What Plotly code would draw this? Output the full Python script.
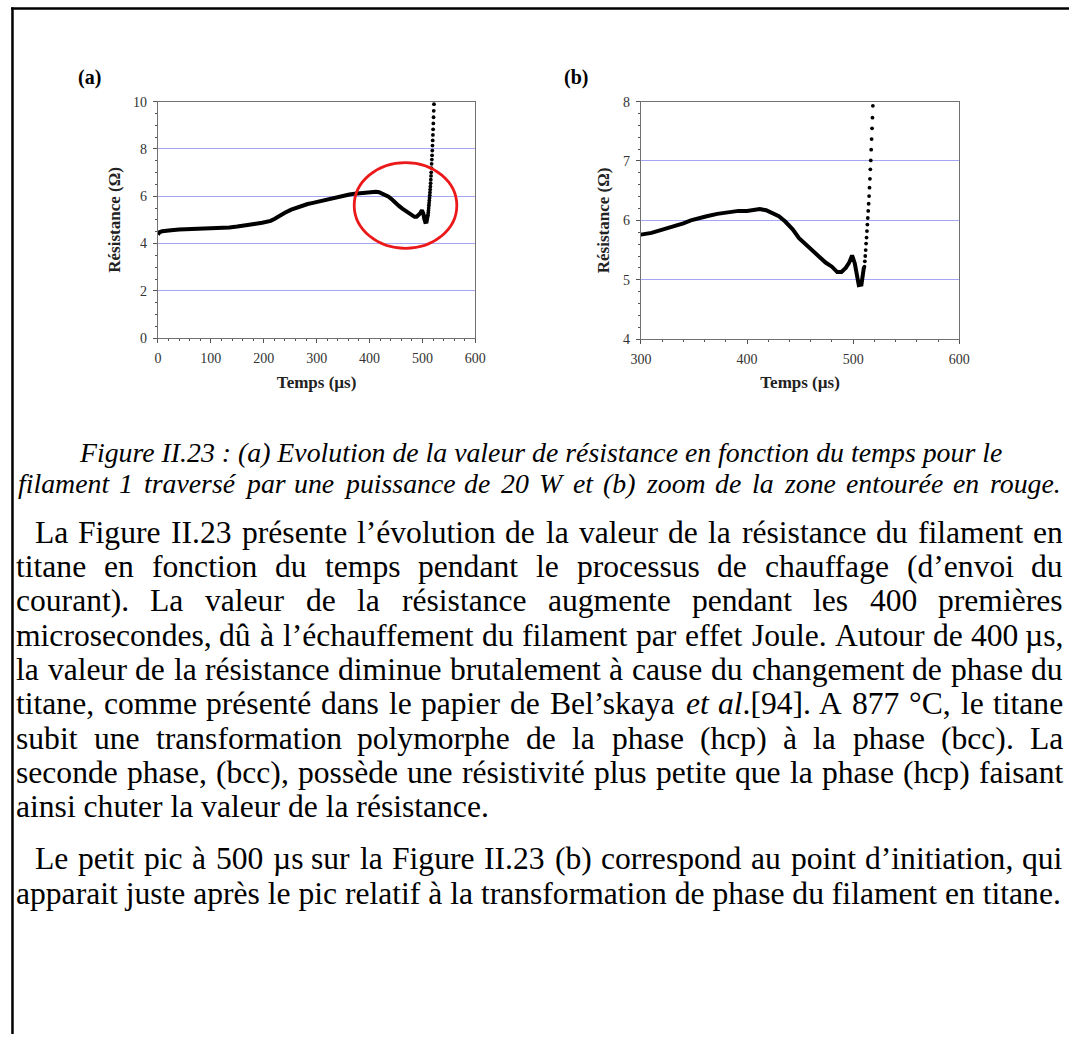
import plotly.graph_objects as go

# ---------------- data ----------------
time_line = [0, 3, 8, 15, 25, 40, 55, 72, 90, 103, 120, 135, 150, 166, 182, 197, 206, 213, 220, 228,
             240, 252, 260, 272, 283, 291, 300, 310, 322, 332, 340, 347, 354, 362, 372, 380, 392, 400,
             406, 412, 418, 424, 430, 436, 443, 449, 455, 462, 468, 474, 480, 485, 489, 493, 496, 499,
             501.5, 503.5, 505.3, 507.8, 509.4, 510.2]
res_line = [4.38, 4.48, 4.52, 4.55, 4.56, 4.59, 4.60, 4.61, 4.61, 4.62, 4.65, 4.68, 4.72, 4.79, 4.83, 4.88,
            4.91, 4.96, 5.04, 5.15, 5.30, 5.43, 5.50, 5.60, 5.67, 5.71, 5.76, 5.79, 5.85, 5.91, 5.95, 6.00,
            6.04, 6.07, 6.11, 6.13, 6.16, 6.16, 6.18, 6.19, 6.17, 6.12, 6.07, 5.98, 5.85, 5.70, 5.60, 5.48,
            5.38, 5.29, 5.22, 5.13, 5.13, 5.20, 5.28, 5.41, 5.28, 5.05, 4.91, 4.92, 5.10, 5.22]
time_dots = [510.6, 511.0, 511.4, 511.8, 512.2, 512.6, 513.0, 513.4, 513.8, 514.2, 514.6, 515.0, 515.4,
             515.8, 516.2, 516.6, 517.0, 517.4, 517.8, 518.2, 518.6, 519.0, 519.4, 519.8, 520.2, 520.6,
             521.0, 521.4, 521.8]
res_dots = [5.22, 5.31, 5.40, 5.50, 5.61, 5.71, 5.82, 5.93, 6.04, 6.16, 6.28, 6.41, 6.55, 6.70, 6.86, 7.01,
            7.19, 7.37, 7.55, 7.73, 7.93, 8.14, 8.36, 8.59, 8.83, 9.08, 9.34, 9.61, 9.89]

# red ellipse (zone zoomed in panel b), data coords of panel a
ellipse_t = [371, 565]
ellipse_r = [3.8, 7.42]

xticks_a = [0, 100, 200, 300, 400, 500, 600]
yticks_a = [0, 2, 4, 6, 8, 10]
xticks_b = [300, 400, 500, 600]
yticks_b = [4, 5, 6, 7, 8]

caption_lines = [
    "Figure II.23 : (a) Evolution de la valeur de résistance en fonction du temps pour le",
    "filament 1 traversé par une puissance de 20 W et (b) zoom de la zone entourée en rouge.",
]
# (text, indent, justified)
paragraph_lines = [
    ("La Figure II.23 présente l’évolution de la valeur de la résistance du filament en", True, True),
    ("titane en fonction du temps pendant le processus de chauffage (d’envoi du", False, True),
    ("courant). La valeur de la résistance augmente pendant les 400 premières", False, True),
    ("microsecondes, dû à l’échauffement du filament par effet Joule. Autour de 400 µs,", False, True),
    ("la valeur de la résistance diminue brutalement à cause du changement de phase du", False, True),
    ("titane, comme présenté dans le papier de Bel’skaya <i>et</i> <i>al</i>.[94]. A 877 °C, le titane", False, True),
    ("subit une transformation polymorphe de la phase (hcp) à la phase (bcc). La", False, True),
    ("seconde phase, (bcc), possède une résistivité plus petite que la phase (hcp) faisant", False, True),
    ("ainsi chuter la valeur de la résistance.", False, False),
    ("Le petit pic à 500 µs sur la Figure II.23 (b) correspond au point d’initiation, qui", True, True),
    ("apparait juste après le pic relatif à la transformation de phase du filament en titane.", False, False),
]

# ---------------- layout constants ----------------
W, H = 1080, 1042
SERIF = "Liberation Serif, Times New Roman, serif"
PAR_FS = 31.6
CAP_FS = 27.8
LEFT, RIGHT, INDENT = 5, 1074, 19
CAP_Y = [452, 483]
PAR_Y0, PAR_DY, PAR_GAP = 533, 34.8, 18
PLOT_A = dict(x=(150, 474), y=(96, 336))
PLOT_B = dict(x=(643, 968), y=(96, 337))


def px(x):
    return x / W


def py(y):
    return 1 - y / H


# Times metrics (1/1000 em), roman and italic
TW = {' ': 250, 'a': 444, 'b': 500, 'c': 444, 'd': 500, 'e': 444, 'f': 333, 'g': 500, 'h': 500, 'i': 278,
      'j': 278, 'k': 500, 'l': 278, 'm': 778, 'n': 500, 'o': 500, 'p': 500, 'q': 500, 'r': 333, 's': 389,
      't': 278, 'u': 500, 'v': 500, 'w': 722, 'x': 500, 'y': 500, 'z': 444, 'A': 722, 'B': 667, 'C': 667,
      'D': 722, 'E': 611, 'F': 556, 'G': 722, 'H': 722, 'I': 333, 'J': 389, 'K': 722, 'L': 611, 'M': 889,
      'N': 722, 'O': 722, 'P': 556, 'Q': 722, 'R': 667, 'S': 556, 'T': 611, 'U': 722, 'V': 722, 'W': 944,
      'X': 722, 'Y': 722, 'Z': 611, '.': 250, ',': 250, ':': 278, ';': 278, '(': 333, ')': 333, '[': 333,
      ']': 333, '’': 333, '°': 400, 'µ': 500, 'é': 444, 'è': 444, 'à': 444, 'û': 500, 'ê': 444, '-': 333}
TI = {' ': 250, 'a': 500, 'b': 500, 'c': 444, 'd': 500, 'e': 444, 'f': 278, 'g': 500, 'h': 500, 'i': 278,
      'j': 278, 'k': 444, 'l': 278, 'm': 722, 'n': 500, 'o': 500, 'p': 500, 'q': 500, 'r': 389, 's': 389,
      't': 278, 'u': 500, 'v': 444, 'w': 667, 'x': 444, 'y': 444, 'z': 389, 'W': 833, 'F': 611, 'I': 333,
      'E': 611, '.': 250, ',': 250, ':': 333, '(': 333, ')': 333, 'é': 444}
for d in '0123456789':
    TW[d] = 500
    TI[d] = 500


def strip(s):
    return s.replace('<i>', '').replace('</i>', '')


def wwidth(word, fs, table=TW):
    return sum(table.get(ch, 500) for ch in strip(word)) * fs / 1000.0 * 1.015


fig = go.Figure()

# ---------------- traces ----------------
for xa, ya in (("x", "y"), ("x2", "y2")):
    fig.add_trace(go.Scatter(x=time_line, y=res_line, mode="lines", xaxis=xa, yaxis=ya,
                             line=dict(color="black", width=4), showlegend=False, hoverinfo="skip"))
    fig.add_trace(go.Scatter(x=time_dots, y=res_dots, mode="markers", xaxis=xa, yaxis=ya,
                             marker=dict(color="black", size=3.8), showlegend=False, hoverinfo="skip",
                             cliponaxis=True))

axis_common = dict(showline=True, linecolor="#707070", linewidth=1.3, mirror=True, ticks="outside",
                   ticklen=4, tickwidth=1, tickcolor="#555", zeroline=False, ticklabelstandoff=3,
                   tickfont=dict(family=SERIF, size=14, color="#333"))
gridc = "rgb(165,165,245)"
title_font = dict(family=SERIF, size=17, color="#222")

fig.update_layout(
    width=W, height=H, margin=dict(l=0, r=0, t=0, b=0),
    paper_bgcolor="white", plot_bgcolor="white", showlegend=False,
    xaxis=dict(domain=[px(PLOT_A["x"][0]), px(PLOT_A["x"][1])], range=[0, 600], tickvals=xticks_a,
               showgrid=False,
               minor=dict(ticks="outside", ticklen=2, dtick=20, tickcolor="#555", showgrid=False),
               title=dict(text="<b>Temps (µs)</b>", font=title_font, standoff=10),
               anchor="y", **axis_common),
    yaxis=dict(domain=[py(PLOT_A["y"][1]), py(PLOT_A["y"][0])], range=[0, 10], tickvals=yticks_a,
               showgrid=True, gridcolor=gridc, gridwidth=1,
               minor=dict(ticks="outside", ticklen=2, dtick=0.5, tickcolor="#555", showgrid=False),
               title=dict(text="<b>Résistance (Ω)</b>", font=title_font, standoff=8),
               anchor="x", **axis_common),
    xaxis2=dict(domain=[px(PLOT_B["x"][0]), px(PLOT_B["x"][1])], range=[300, 600], tickvals=xticks_b,
                showgrid=False,
                minor=dict(ticks="outside", ticklen=2, dtick=20, tickcolor="#555", showgrid=False),
                title=dict(text="<b>Temps (µs)</b>", font=title_font, standoff=10),
                anchor="y2", **axis_common),
    yaxis2=dict(domain=[py(PLOT_B["y"][1]), py(PLOT_B["y"][0])], range=[4, 8], tickvals=yticks_b,
                showgrid=True, gridcolor=gridc, gridwidth=1,
                minor=dict(ticks="outside", ticklen=2, dtick=0.2, tickcolor="#555", showgrid=False),
                title=dict(text="<b>Résistance (Ω)</b>", font=title_font, standoff=8),
                anchor="x2", **axis_common),
)

shapes = [
    dict(type="circle", xref="x", yref="y", x0=ellipse_t[0], x1=ellipse_t[1], y0=ellipse_r[0], y1=ellipse_r[1],
         line=dict(color="rgb(235,25,25)", width=2.8)),
    dict(type="line", xref="paper", yref="paper", x0=0, x1=1, y0=py(1.5), y1=py(1.5),
         line=dict(color="black", width=2.5)),
    dict(type="line", xref="paper", yref="paper", x0=px(1.5), x1=px(1.5), y0=0, y1=py(0.5),
         line=dict(color="black", width=2.5)),
]
fig.update_layout(shapes=shapes)

ann = []


def text(x, y, s, size, xanchor="left", italic=False, bold=False):
    t = s
    if bold:
        t = "<b>" + t + "</b>"
    if italic:
        t = "<i>" + t + "</i>"
    ann.append(dict(x=px(x), y=py(y), xref="paper", yref="paper", text=t, showarrow=False,
                    xanchor=xanchor, yanchor="middle", borderpad=0, borderwidth=0,
                    font=dict(family=SERIF, size=size, color="black")))


def justified(line, left, right, y, fs, italic=False):
    words = line.split(" ")
    table = TI if italic else TW
    widths = [wwidth(w, fs, table) for w in words]
    gap = (right - left - sum(widths)) / (len(words) - 1)
    x = left
    for j, w in enumerate(words):
        if j == len(words) - 1:
            text(right, y, w, fs, xanchor="right", italic=italic)
        else:
            text(x, y, w, fs, italic=italic)
        x += widths[j] + gap


text(68, 72, "(a)", 20, bold=True)
text(565, 72, "(b)", 20, bold=True)

# caption: first line centred, second line spread over the text width
text(540, CAP_Y[0], caption_lines[0], CAP_FS, xanchor="center", italic=True)
justified(caption_lines[1], LEFT + 2, RIGHT - 2, CAP_Y[1], CAP_FS, italic=True)

y = PAR_Y0
for i, (line, indent, just) in enumerate(paragraph_lines):
    if i > 0:
        y += PAR_DY
        if indent:
            y += PAR_GAP
    left = LEFT + (INDENT if indent else 0)
    if not just:
        text(left, y, line, PAR_FS)
    else:
        justified(line, left, RIGHT, y, PAR_FS)

fig.update_layout(annotations=ann)
fig.write_html("out.html", config={"displayModeBar": False},
               post_script="document.body.style.margin='0';")
